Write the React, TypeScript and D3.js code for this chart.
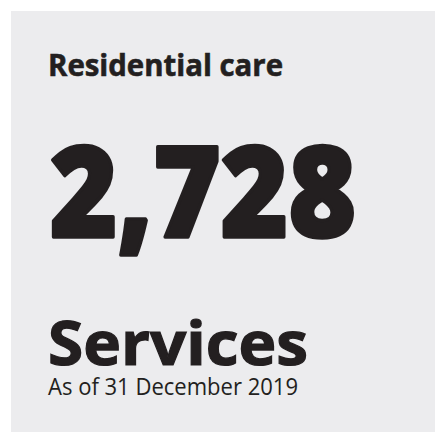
import * as d3 from "d3"
import { useEffect, useRef } from "react"

// card content
const titles = ["Residential care"]
const values = [2728]
const units = ["Services"]
const notes = ["As of 31 December 2019"]

const WIDTH = 435
const HEIGHT = 432
const INK = "#231f20"

const KpiCard = () => {
  const svgRef = useRef<SVGSVGElement>(null)

  useEffect(() => {
    if (!svgRef.current) return
    const svg = d3.select(svgRef.current)
    svg.selectAll("*").remove()

    svg
      .append("rect")
      .attr("x", 11)
      .attr("y", 11)
      .attr("width", WIDTH - 11)
      .attr("height", HEIGHT - 11)
      .attr("fill", "#ececee")

    const x0 = 48

    svg
      .append("text")
      .attr("x", x0)
      .attr("y", 76)
      .attr("font-family", "'Open Sans', sans-serif")
      .attr("font-weight", 700)
      .attr("font-size", "31px")
      .attr("fill", INK)
      .attr("stroke", INK)
      .attr("stroke-width", 0.6)
      .attr("textLength", 235)
      .attr("lengthAdjust", "spacingAndGlyphs")
      .text(titles[0])

    // big number, thickened with a stroke to get the black weight
    svg
      .append("text")
      .attr("x", x0 + 2)
      .attr("y", 237)
      .attr("font-family", "'Open Sans', sans-serif")
      .attr("font-weight", 800)
      .attr("font-size", "126px")
      .attr("fill", INK)
      .attr("stroke", INK)
      .attr("stroke-width", 3.5)
      .attr("stroke-linejoin", "round")
      .attr("textLength", 306)
      .attr("lengthAdjust", "spacingAndGlyphs")
      .text(d3.format(",")(values[0]))

    svg
      .append("text")
      .attr("x", x0)
      .attr("y", 365)
      .attr("font-family", "'Open Sans', sans-serif")
      .attr("font-weight", 700)
      .attr("font-size", "60px")
      .attr("fill", INK)
      .attr("stroke", INK)
      .attr("stroke-width", 1.2)
      .attr("textLength", 260)
      .attr("lengthAdjust", "spacingAndGlyphs")
      .text(units[0])

    svg
      .append("text")
      .attr("x", x0)
      .attr("y", 395)
      .attr("font-family", "'Open Sans', sans-serif")
      .attr("font-weight", 400)
      .attr("font-size", "24px")
      .attr("fill", INK)
      .attr("textLength", 250)
      .attr("lengthAdjust", "spacingAndGlyphs")
      .text(notes[0])
  }, [])

  return (
    <svg
      ref={svgRef}
      width={WIDTH}
      height={HEIGHT}
      style={{ display: "block", position: "absolute", left: 0, top: 0 }}
    />
  )
}

export default function App() {
  return <KpiCard />
}
